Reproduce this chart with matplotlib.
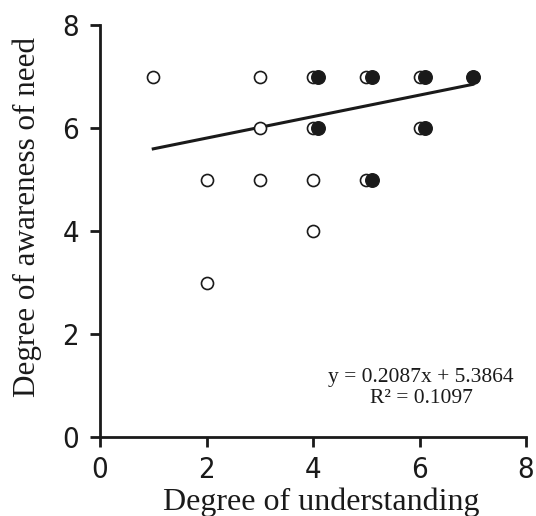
import matplotlib
matplotlib.use("Agg")
import matplotlib.pyplot as plt
import numpy as np

# open circles (all respondents)
open_x = [1, 2, 2, 3, 3, 3, 4, 4, 4, 4, 5, 5, 6, 6, 7]
open_y = [7, 5, 3, 7, 6, 5, 7, 6, 5, 4, 7, 5, 7, 6, 7]
# filled circles (subgroup), slightly offset to the right
fill_x = [4.1, 4.1, 5.1, 5.1, 6.1, 6.1, 7.0]
fill_y = [7, 6, 7, 5, 7, 6, 7]

slope = 0.2087
intercept = 5.3864
r2 = 0.1097
line_x = [1, 7]

x_ticks = [0, 2, 4, 6, 8]
y_ticks = [0, 2, 4, 6, 8]

fig = plt.figure(figsize=(5.36, 5.16), dpi=100)
ax = fig.add_axes([100/536, 1-437/516, 426/536, 412/516])

ax.scatter(open_x, open_y, s=75, facecolors='white', edgecolors='#1a1a1a', linewidths=1.2, zorder=3)
ax.scatter(fill_x, fill_y, s=95, facecolors='#1a1a1a', edgecolors='#1a1a1a', linewidths=1.0, zorder=4)
lx = np.array(line_x, dtype=float)
ax.plot(lx, slope*lx + intercept, color='#1a1a1a', lw=2.2, zorder=2)

ax.set_xlim(0, 8)
ax.set_ylim(0, 8)
ax.set_xticks(x_ticks)
ax.set_yticks(y_ticks)
for s in ['top', 'right']:
    ax.spines[s].set_visible(False)
for s in ['left', 'bottom']:
    ax.spines[s].set_linewidth(2)
    ax.spines[s].set_color('#1a1a1a')
ax.tick_params(direction='out', length=7, width=2, color='#1a1a1a')
ax.tick_params(axis='x', pad=7)
ax.tick_params(axis='y', pad=8)

for lab in ax.get_xticklabels() + ax.get_yticklabels():
    lab.set_family('DejaVu Sans')
    lab.set_stretch('condensed')
    lab.set_fontsize(21)
    lab.set_color('#1a1a1a')

ax.set_xlabel('Degree of understanding', family='Liberation Serif', fontsize=23, color='#1a1a1a', labelpad=2.5)
ax.set_ylabel('Degree of awareness of need', family='Liberation Serif', fontsize=22.4, color='#1a1a1a', labelpad=15)
ax.xaxis.label.set_x(0.519)
ax.yaxis.label.set_y(0.533)

ax.text(6.03, 0.95, f'y = {slope}x + {intercept}\nR² = {r2}', family='Liberation Serif', fontsize=15.5,
        ha='center', va='center', color='#1a1a1a', linespacing=1.2)

fig.savefig('out.png', dpi=100)
